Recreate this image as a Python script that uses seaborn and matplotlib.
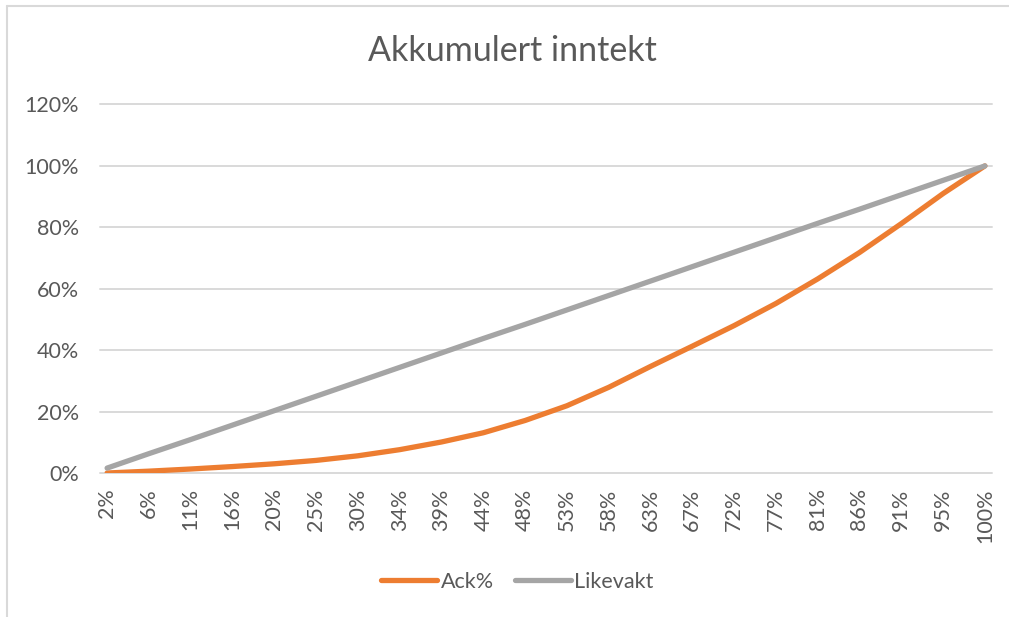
import numpy as np
import pandas as pd
import seaborn as sns
import matplotlib.pyplot as plt
from matplotlib.lines import Line2D

sns.set_theme(style="white")
plt.rcParams['font.family'] = ['Lato', 'DejaVu Sans']

# category labels on the x axis (share of population)
labels = ['2%', '6%', '11%', '16%', '20%', '25%', '30%', '34%', '39%', '44%', '48%',
          '53%', '58%', '63%', '67%', '72%', '77%', '81%', '86%', '91%', '95%', '100%']
# cumulative income share
ack = [0.0, 0.6, 1.3, 2.1, 3.0, 4.1, 5.6, 7.6, 10.1, 13.1, 17.1,
       21.9, 27.9, 34.7, 41.3, 48.0, 55.2, 63.2, 71.8, 81.2, 91.0, 100.0]
# line of equality
likevakt = [1.6, 6.3, 10.9, 15.6, 20.3, 25.0, 29.7, 34.4, 39.1, 43.8, 48.4,
            53.1, 57.8, 62.5, 67.2, 71.9, 76.6, 81.3, 85.9, 90.6, 95.3, 100.0]

txt = '#595959'
grid = '#d9d9d9'

df = pd.DataFrame({'pos': list(range(len(labels))) * 2,
                   'val': [v / 100 for v in ack + likevakt],
                   'serie': ['Ack%'] * len(ack) + ['Likevakt'] * len(likevakt)})

fig = plt.figure(figsize=(10.09, 6.17), dpi=100)
ax = fig.add_axes([100 / 1009, 144 / 617, 892 / 1009, 368.5 / 617])

sns.lineplot(data=df, x='pos', y='val', hue='serie', sort=False,
             palette={'Ack%': '#ed7d31', 'Likevakt': '#a5a5a5'},
             linewidth=3.8, legend=False, ax=ax, zorder=3)
for ln in ax.lines:
    ln.set_solid_joinstyle('round')
    ln.set_solid_capstyle('round')

ax.set_xlim(-0.17, len(labels) - 1 + 0.17)
ax.set_ylim(0, 1.2)
ax.set_yticks(np.arange(0, 1.21, 0.2))
ax.set_yticklabels([f'{int(round(t * 100))}%' for t in np.arange(0, 1.21, 0.2)])
ax.set_xticks(range(len(labels)))
ax.set_xticklabels(labels, rotation=90)
ax.tick_params(axis='x', length=0, pad=11, labelsize=15.5, colors=txt)
ax.tick_params(axis='y', length=0, pad=15, labelsize=15.5, colors=txt)
ax.set_xlabel('')
ax.set_ylabel('')
for s in ax.spines.values():
    s.set_visible(False)
ax.grid(axis='y', color=grid, linewidth=1.4, clip_on=False)
ax.set_axisbelow(True)

fig.text(0.508, 0.918, 'Akkumulert inntekt', ha='center', va='center',
         fontsize=24.5, color=txt)

handles = [Line2D([], [], color='#ed7d31', linewidth=3.8, solid_capstyle='round'),
           Line2D([], [], color='#a5a5a5', linewidth=3.8, solid_capstyle='round')]
fig.legend(handles, ['Ack%', 'Likevakt'], loc='center', bbox_to_anchor=(0.513, 0.057),
           ncol=2, frameon=False, fontsize=15.5, handlelength=2.6, handletextpad=0.15,
           columnspacing=1.0, labelcolor=txt)

# chart frame (top and left edges visible in the original)
fig.add_artist(Line2D([6.5 / 1009, 6.5 / 1009], [0, 1 - 6 / 617], color=grid,
                      linewidth=1.5, transform=fig.transFigure))
fig.add_artist(Line2D([6.5 / 1009, 1], [1 - 6 / 617, 1 - 6 / 617], color=grid,
                      linewidth=1.5, transform=fig.transFigure))

fig.savefig('out.png', dpi=100)
